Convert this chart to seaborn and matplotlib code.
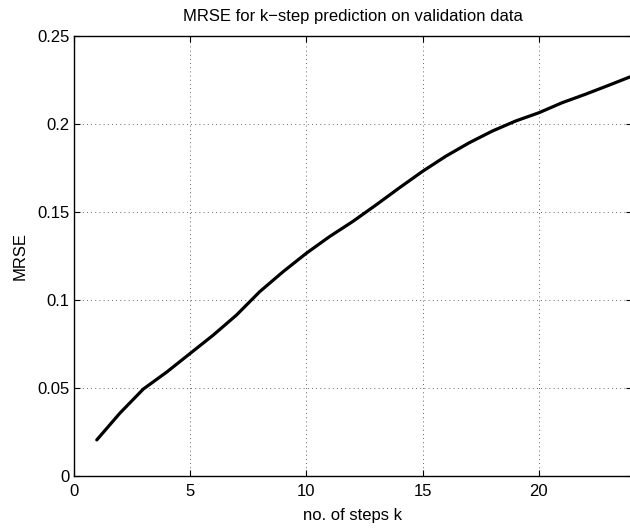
"""MRSE for k-step prediction, MATLAB-style line chart."""

import numpy as np
import pandas as pd
import matplotlib
matplotlib.use("Agg")
import matplotlib.pyplot as plt
import seaborn as sns

# values
steps = list(range(1, 25))
mrse = [0.0205, 0.0358, 0.0494, 0.0590, 0.0695, 0.0800, 0.0914, 0.1047,
        0.1160, 0.1265, 0.1360, 0.1446, 0.1540, 0.1637, 0.1731, 0.1817,
        0.1893, 0.1960, 0.2017, 0.2064, 0.2121, 0.2169, 0.2220, 0.2272]
x_ticks = [0, 5, 10, 15, 20]
y_ticks = [0, 0.05, 0.1, 0.15, 0.2, 0.25]
y_tick_labels = ["0", "0.05", "0.1", "0.15", "0.2", "0.25"]

df = pd.DataFrame({"k": steps, "MRSE": mrse})

sns.set_style("ticks")
plt.rcParams["font.family"] = ["Liberation Sans", "DejaVu Sans"]
plt.rcParams["text.color"] = "black"
plt.rcParams["axes.labelcolor"] = "black"

fig = plt.figure(figsize=(6.3, 5.29), dpi=100)
ax = fig.add_axes([73.5 / 630, 1 - 476 / 529, (632 - 73.5) / 630, (476 - 36) / 529])

sns.lineplot(data=df, x="k", y="MRSE", color="black", linewidth=2.3, ax=ax)

ax.set_xlim(0, 24)
ax.set_ylim(0, 0.25)
ax.set_xticks(x_ticks)
ax.set_yticks(y_ticks)
ax.set_yticklabels(y_tick_labels)
ax.tick_params(direction="in", length=4, width=0.8, top=True, right=True,
               labelsize=12, colors="black", pad=3)
ax.tick_params(axis="x", pad=6)
ax.grid(True, linestyle=(0, (1, 4)), color="#333333", linewidth=0.6)
for s in ax.spines.values():
    s.set_visible(True)
    s.set_color("black")
    s.set_linewidth(1.0)

ax.set_title("MRSE for k\u2212step prediction on validation data", fontsize=12,
             pad=11, color="black")
ax.set_xlabel("no. of steps k", fontsize=12, labelpad=6)
ax.set_ylabel("MRSE", fontsize=12, labelpad=7)

fig.savefig("out.png", dpi=100)
plt.close(fig)
